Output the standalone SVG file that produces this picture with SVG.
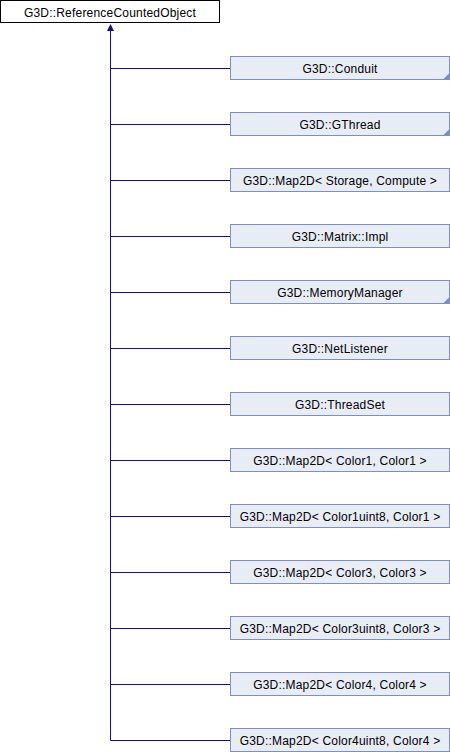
<svg xmlns="http://www.w3.org/2000/svg" width="450" height="752" viewBox="0 0 450 752">
<style>
.root rect{fill:#ffffff;stroke:#000000;stroke-width:1}
.node rect{fill:#e8ecf5;stroke:#7b8fc4;stroke-width:1}
.fold{fill:#7b8fc4}
text{font-family:"Liberation Sans",Arial,sans-serif;font-size:12px;letter-spacing:0.2px;text-anchor:middle;fill:#000000}
.edge{stroke:#10109a;stroke-width:1;fill:none}
.head{fill:#10109a}
</style>
<rect width="450" height="752" fill="#ffffff"/>
<g id="connectors">
<path class="edge" d="M110.5,30 V740.5"/>
<path class="edge" d="M110.5,68.5 H230.5 M110.5,124.5 H230.5 M110.5,180.5 H230.5 M110.5,236.5 H230.5 M110.5,292.5 H230.5 M110.5,348.5 H230.5 M110.5,404.5 H230.5 M110.5,460.5 H230.5 M110.5,516.5 H230.5 M110.5,572.5 H230.5 M110.5,628.5 H230.5 M110.5,684.5 H230.5 M110.5,740.5 H230.5"/>
<polygon class="head" points="110.5,24 107,31 114,31"/>
</g>
<g id="ReferenceCountedObject" class="root"><rect x="0.5" y="0.5" width="219" height="22"/><text x="110" y="16.5">G3D::ReferenceCountedObject</text></g>
<g id="Conduit" class="node"><rect x="230.5" y="56.5" width="219" height="23"/><polygon class="fold" points="443,79.5 449.5,73 449.5,79.5"/><text x="340" y="72.5">G3D::Conduit</text></g>
<g id="GThread" class="node"><rect x="230.5" y="112.5" width="219" height="23"/><polygon class="fold" points="443,135.5 449.5,129 449.5,135.5"/><text x="340" y="128.5">G3D::GThread</text></g>
<g id="Map2D_Storage_Compute" class="node"><rect x="230.5" y="168.5" width="219" height="23"/><text x="340" y="184.5">G3D::Map2D&lt; Storage, Compute &gt;</text></g>
<g id="MatrixImpl" class="node"><rect x="230.5" y="224.5" width="219" height="23"/><text x="340" y="240.5">G3D::Matrix::Impl</text></g>
<g id="MemoryManager" class="node"><rect x="230.5" y="280.5" width="219" height="23"/><polygon class="fold" points="443,303.5 449.5,297 449.5,303.5"/><text x="340" y="296.5">G3D::MemoryManager</text></g>
<g id="NetListener" class="node"><rect x="230.5" y="336.5" width="219" height="23"/><text x="340" y="352.5">G3D::NetListener</text></g>
<g id="ThreadSet" class="node"><rect x="230.5" y="392.5" width="219" height="23"/><text x="340" y="408.5">G3D::ThreadSet</text></g>
<g id="Map2D_Color1_Color1" class="node"><rect x="230.5" y="448.5" width="219" height="23"/><text x="340" y="464.5">G3D::Map2D&lt; Color1, Color1 &gt;</text></g>
<g id="Map2D_Color1uint8_Color1" class="node"><rect x="230.5" y="504.5" width="219" height="23"/><text x="340" y="520.5">G3D::Map2D&lt; Color1uint8, Color1 &gt;</text></g>
<g id="Map2D_Color3_Color3" class="node"><rect x="230.5" y="560.5" width="219" height="23"/><text x="340" y="576.5">G3D::Map2D&lt; Color3, Color3 &gt;</text></g>
<g id="Map2D_Color3uint8_Color3" class="node"><rect x="230.5" y="616.5" width="219" height="23"/><text x="340" y="632.5">G3D::Map2D&lt; Color3uint8, Color3 &gt;</text></g>
<g id="Map2D_Color4_Color4" class="node"><rect x="230.5" y="672.5" width="219" height="23"/><text x="340" y="688.5">G3D::Map2D&lt; Color4, Color4 &gt;</text></g>
<g id="Map2D_Color4uint8_Color4" class="node"><rect x="230.5" y="728.5" width="219" height="23"/><text x="340" y="744.5">G3D::Map2D&lt; Color4uint8, Color4 &gt;</text></g>
</svg>
